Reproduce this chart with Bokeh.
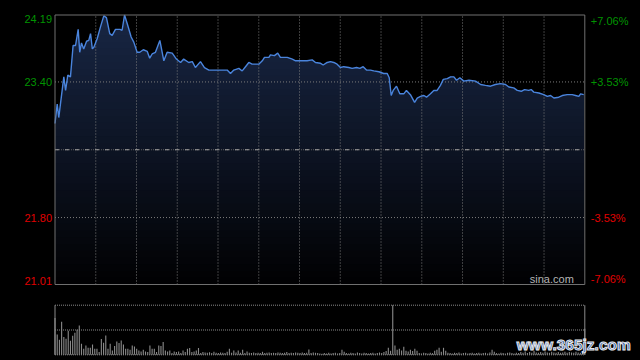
import numpy as np
from bokeh.plotting import figure
from bokeh.models import Range1d, GlobalInlineStyleSheet
from bokeh.core.properties import value
from bokeh.embed import file_html
from bokeh.resources import INLINE

# ---------------- data ----------------
minutes = [0, 1.0, 1.7, 4.0, 4.8, 5.8, 7.0, 8.2, 9.3, 10.5,
           11.2, 12.0, 13.0, 14.3, 15.3, 16.1, 16.9, 17.6, 19.1, 20.6,
           22.1, 23.3, 24.8, 25.9, 27.4, 29.4, 30.4, 31.5, 32.7, 34.5,
           35.7, 37.2, 38.4, 40.0, 41.8, 42.9, 44.0, 45.5, 47.5, 49.3,
           50.8, 53.1, 55.0, 56.9, 58.3, 60.6, 62.2, 63.6, 65.9, 67.7,
           69.7, 71.9, 74.2, 78.0, 79.5, 81.0, 83.3, 84.8, 86.3, 87.8,
           89.3, 92.3, 93.9, 94.9, 96.9, 97.6, 99.4, 100.9, 102.1, 105.2,
           107.5, 109.0, 111.2, 114.2, 116.5, 118.0, 120.3, 121.5, 123.3, 124.8,
           126.3, 127.8, 129.3, 130.8, 133.1, 134.6, 136.6, 138.1, 139.6, 141.1,
           142.9, 144.4, 146.7, 148.9, 150.5, 151.4, 152.3, 153.2, 154.7, 156.2,
           158.0, 159.2, 161.0, 162.9, 164.1, 165.6, 167.1, 168.3, 170.1, 171.6,
           173.1, 174.6, 175.9, 177.7, 179.2, 180.7, 181.9, 183.4, 185.2, 187.5,
           190.5, 192.8, 195.0, 197.3, 199.5, 201.8, 204.1, 205.6, 207.8, 209.4,
           211.2, 212.7, 214.6, 215.7, 216.9, 219.2, 221.4, 223.0, 224.5, 226.0,
           228.2, 229.8, 232.0, 234.3, 235.8, 237.3, 238.1, 239.5]

prices = [22.91, 23.14, 22.98, 23.46, 23.30, 23.48, 23.46, 23.83, 23.83, 24.02,
          23.75, 23.86, 23.79, 23.88, 23.89, 23.97, 23.79, 23.81, 23.91, 24.05,
          24.18, 24.16, 23.97, 23.95, 24.02, 24.02, 24.01, 24.19, 24.09, 23.93,
          23.87, 23.75, 23.75, 23.78, 23.76, 23.68, 23.73, 23.75, 23.89, 23.65,
          23.75, 23.74, 23.67, 23.63, 23.67, 23.63, 23.64, 23.57, 23.64, 23.57,
          23.54, 23.54, 23.54, 23.54, 23.50, 23.54, 23.56, 23.53, 23.58, 23.63,
          23.61, 23.61, 23.65, 23.69, 23.69, 23.72, 23.71, 23.74, 23.69, 23.69,
          23.67, 23.65, 23.65, 23.65, 23.66, 23.63, 23.62, 23.60, 23.63, 23.64,
          23.63, 23.61, 23.57, 23.58, 23.57, 23.56, 23.57, 23.56, 23.58, 23.54,
          23.54, 23.53, 23.52, 23.50, 23.50, 23.45, 23.24, 23.30, 23.35, 23.26,
          23.26, 23.30, 23.25, 23.16, 23.21, 23.23, 23.24, 23.22, 23.26, 23.30,
          23.30, 23.36, 23.43, 23.44, 23.46, 23.46, 23.42, 23.45, 23.41, 23.42,
          23.41, 23.37, 23.36, 23.35, 23.37, 23.38, 23.37, 23.34, 23.33, 23.30,
          23.29, 23.31, 23.30, 23.31, 23.28, 23.27, 23.25, 23.23, 23.24, 23.21,
          23.22, 23.24, 23.25, 23.25, 23.24, 23.23, 23.26, 23.25]

vol_minutes = list(range(241))
volumes = [367, 203, 150, 330, 177, 160, 240, 140, 190, 220,
           250, 293, 110, 60, 93, 70, 70, 103, 60, 60,
           27, 157, 120, 193, 60, 110, 43, 87, 133, 117,
           143, 103, 60, 60, 50, 93, 83, 60, 43, 33,
           50, 33, 27, 93, 60, 60, 27, 93, 87, 127,
           43, 33, 43, 17, 33, 27, 33, 17, 43, 27,
           60, 67, 27, 33, 43, 67, 17, 27, 23, 20,
           25, 17, 30, 20, 17, 23, 20, 17, 30, 60,
           20, 43, 23, 43, 20, 50, 17, 33, 20, 17,
           23, 17, 20, 17, 30, 17, 20, 23, 17, 20,
           17, 23, 20, 17, 20, 27, 17, 20, 17, 23,
           20, 17, 23, 17, 20, 53, 17, 23, 20, 17,
           13, 10, 17, 13, 20, 13, 17, 20, 13, 17,
           50, 30, 17, 13, 20, 17, 13, 23, 17, 13,
           20, 17, 13, 17, 20, 13, 17, 23, 17, 27,
           37, 70, 40, 496, 93, 50, 60, 43, 80, 40,
           33, 50, 37, 60, 40, 17, 13, 20, 17, 13,
           20, 17, 40, 50, 70, 30, 70, 40, 20, 17,
           13, 20, 17, 23, 13, 17, 20, 13, 17, 20,
           13, 17, 20, 13, 17, 20, 13, 23, 50, 30,
           17, 13, 20, 17, 13, 20, 23, 17, 13, 20,
           17, 27, 20, 33, 17, 27, 20, 40, 23, 20,
           27, 20, 33, 23, 20, 30, 23, 20, 27, 20,
           23, 30, 20, 27, 23, 20, 30, 23, 20, 20,
           260]

prev_close = 22.60
price_ticks = [24.19, 23.40, 21.80, 21.01]
price_labels = ["24.19", "23.40", "21.80", "21.01"]
pct_labels = ["+7.06%", "+3.53%", "-3.53%", "-7.06%"]
grid_prices = [23.40, 21.80]
session_minutes = 240
n_time_divisions = 13
source_text = "sina.com"
watermark_text = "www.365jz.com"

# ---------------- layout (pixel geometry of the panels) ----------------
W, H = 640, 360
px_left, px_right = 54.5, 584.3
py_top, py_bottom = 14.5, 284.0
vy_top, vy_bottom = 304.7, 354.3

y_lo, y_hi = min(price_ticks), max(price_ticks)
vmax = max(volumes)

mpp = session_minutes / (px_right - px_left)
x_start = -px_left * mpp
x_end = session_minutes + (W - px_right) * mpp
ppp = (y_hi - y_lo) / (py_bottom - py_top)
y_end = y_hi + py_top * ppp
y_start = y_lo - (H - py_bottom) * ppp
vpp = vmax / (vy_bottom - vy_top)
v_end = vmax + vy_top * vpp
v_start = -(H - vy_bottom) * vpp

# ---------------- style ----------------
FONT = "Liberation Sans"
GREEN = "#009400"
RED = "#e00000"
GRID = "#7c7c7c"
BORDER = "#707070"
label_colors = [GREEN, GREEN, RED, RED]
label_baselines = ["top", "middle", "middle", "bottom"]

css = GlobalInlineStyleSheet(css="html, body { margin: 0; padding: 0; background-color: #000; overflow: hidden; }")

p = figure(width=W, height=H, x_range=Range1d(x_start, x_end),
           y_range=Range1d(y_start, y_end), x_axis_type=None, y_axis_type=None,
           output_backend="svg", toolbar_location=None,
           min_border_left=0, min_border_right=0, min_border_top=0, min_border_bottom=0,
           background_fill_color="black", border_fill_color="black",
           outline_line_color=None, stylesheets=[css])
p.extra_y_ranges = {"vol": Range1d(v_start, v_end)}

# gradient area under the price line (stacked bands, top band drawn first)
pr = np.array(prices)
n_bands = 40
edges = np.linspace(y_lo, y_hi, n_bands + 1)
top_rgb = np.array([24, 38, 68])
bot_rgb = np.array([1, 1, 2])
for i in range(n_bands, 0, -1):
    hi = edges[i]
    f = (i - 0.5) / n_bands
    c = bot_rgb + (top_rgb - bot_rgb) * f
    col = "#%02x%02x%02x" % tuple(int(round(v)) for v in c)
    p.varea(x=minutes, y1=y_lo, y2=np.minimum(pr, hi), fill_color=col)

# grid
grid_ticks = [session_minutes * k / n_time_divisions for k in range(1, n_time_divisions)]
p.segment(x0=grid_ticks, x1=grid_ticks, y0=y_lo, y1=y_hi, line_color=GRID,
          line_dash="1 2", line_width=1)
p.segment(x0=0, x1=session_minutes, y0=grid_prices, y1=grid_prices, line_color=GRID,
          line_dash="1 2", line_width=1)
p.segment(x0=[0], x1=[session_minutes], y0=[prev_close], y1=[prev_close],
          line_color="#5c5c5c", line_dash="1 1", line_width=1)
p.segment(x0=[0], x1=[session_minutes], y0=[prev_close], y1=[prev_close],
          line_color="#a0a0a0", line_dash="4 6", line_width=1)

# price line
p.line(minutes, prices, line_color="#4a84dc", line_width=1.4)

# price panel border
p.quad(left=[0], right=[session_minutes], bottom=[y_lo], top=[y_hi],
       fill_color=None, line_color=BORDER, line_width=1)

# tick labels
for v, lbl, pl, c, b in zip(price_ticks, price_labels, pct_labels, label_colors, label_baselines):
    p.text(x=[0], y=[v], text=[lbl], x_offset=-3, text_align=value("right"),
           text_baseline=value(b), text_color=c, text_font=value(FONT),
           text_font_size="11px")
    p.text(x=[session_minutes], y=[v], text=[pl], x_offset=6, text_align=value("left"),
           text_baseline=value(b), text_color=c, text_font=value(FONT),
           text_font_size="11px")

p.text(x=[session_minutes], y=[y_lo], text=[source_text], x_offset=-11,
       text_align=value("right"), text_baseline=value("bottom"), text_color="#b4b4b4",
       text_font=value(FONT), text_font_size="11px")

# ---------------- volume panel ----------------
p.vbar(x=vol_minutes, top=volumes, bottom=0, width=0.5, fill_color="#8a8a8a",
       line_color=None, y_range_name="vol")
p.segment(x0=0, x1=session_minutes, y0=[vmax, vmax / 2, 0], y1=[vmax, vmax / 2, 0],
          line_color="#8a8a8a", line_dash="1 1", line_width=1, y_range_name="vol")
p.segment(x0=[0, session_minutes], x1=[0, session_minutes], y0=0, y1=vmax,
          line_color="#8a8a8a", line_width=1, y_range_name="vol")

p.text(x=[session_minutes], y=[vmax * 0.2], text=[watermark_text], x_offset=-68,
       text_align=value("left"), text_baseline=value("middle"), text_color="#2c5cae",
       text_font=value(FONT), text_font_style=value("bold"), text_font_size="15.5px",
       text_outline_color="#e8e8e8", y_range_name="vol")

open("out.html", "w").write(file_html(p, INLINE))
